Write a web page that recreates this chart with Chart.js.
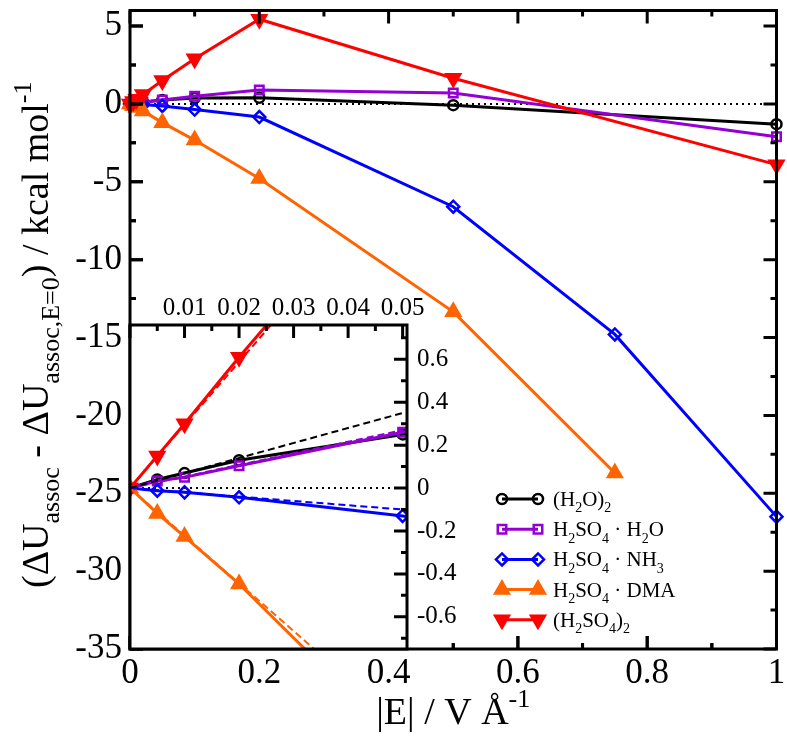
<!DOCTYPE html>
<html lang="en">
<head>
<meta charset="UTF-8">
<title>Association energy vs field strength</title>
<script src="https://cdn.jsdelivr.net/npm/chart.js@4.4.1/dist/chart.umd.min.js"></script>
<style>
    body { margin: 0; background: #fff; }
    #wrap { position: relative; width: 787px; height: 747px; }
    #wrap canvas { position: absolute; left: 0; top: 0; }
</style>
</head>
<body>
<div id="wrap">
    <canvas id="mainChart" width="787" height="747"></canvas>
    <canvas id="insetChart" width="787" height="747"></canvas>
</div>
<script>
// field strength |E| in V/Å
const fieldAll = [0, 0.005, 0.01, 0.02, 0.05, 0.1, 0.2, 0.5, 1];
const fieldNH3 = [0, 0.005, 0.01, 0.02, 0.05, 0.1, 0.2, 0.5, 0.75, 1];
const fieldDMA = [0, 0.005, 0.01, 0.02, 0.05, 0.1, 0.2, 0.5, 0.75];

// ΔU_assoc - ΔU_assoc,E=0 in kcal/mol
const water     = [0, 0.04, 0.07, 0.13, 0.25, 0.38, 0.40, -0.08, -1.3];
const sulfWater = [0, 0.033, 0.05, 0.104, 0.26, 0.50, 0.90, 0.70, -2.1];
const sulfNH3   = [0, -0.012, -0.02, -0.043, -0.13, -0.36, -0.84, -6.6, -14.8, -26.5];
const sulfDMA   = [0, -0.118, -0.226, -0.447, -1.2, -2.32, -4.79, -13.35, -23.7];
const sulfDimer = [0, 0.15, 0.30, 0.61, 1.5, 2.9, 5.44, 1.65, -3.9];

// low-field linear fits (inset, dashed): value at |E| = 0.05
const fitX = [0, 0.05];
const fitEnd = [0.35, 0.27, -0.10, -1.11, 1.47];

const names = ['(H_2O)_2', 'H_2SO_4 · H_2O', 'H_2SO_4 · NH_3', 'H_2SO_4 · DMA', '(H_2SO_4)_2'];

const mainXTicks = [0, 0.2, 0.4, 0.6, 0.8, 1];
const mainYTicks = [-35, -30, -25, -20, -15, -10, -5, 0, 5];
const insetXTicks = [0, 0.01, 0.02, 0.03, 0.04, 0.05];
const insetYTicks = [-0.6, -0.4, -0.2, 0, 0.2, 0.4, 0.6];

const xTitle = '|E| / V Å^{-1}';
const yTitle = '(ΔU_{assoc} - ΔU_{assoc,E=0}) / kcal mol^{-1}';

// styles
const colors = ['#000000', '#9400d3', '#0000ff', '#ff6400', '#ff0000'];
const fills = ['rgba(0,0,0,0)', 'rgba(0,0,0,0)', 'rgba(0,0,0,0)', '#ff6400', '#ff0000'];
const shapes = ['circle', 'rect', 'rectRot', 'triangle', 'triangle'];
const turns = [0, 0, 0, 0, 180];
const radii = [5, 6, 6, 8, 8];
const SERIF = '"Liberation Serif", "DejaVu Serif", serif';

Chart.defaults.font.family = SERIF;
Chart.defaults.color = '#000';

const seriesX = [fieldAll, fieldAll, fieldNH3, fieldDMA, fieldAll];
const seriesY = [water, sulfWater, sulfNH3, sulfDMA, sulfDimer];

function seriesSet(i, clip) {
    return {
        label: names[i],
        data: seriesX[i].map((x, k) => ({ x: x, y: seriesY[i][k] })),
        borderColor: colors[i],
        backgroundColor: fills[i],
        pointBorderColor: colors[i],
        pointBackgroundColor: fills[i],
        pointStyle: shapes[i],
        pointRotation: turns[i],
        pointRadius: radii[i],
        pointBorderWidth: 2.5,
        borderWidth: 3,
        order: 5 - i,
        clip: clip
    };
}

function zeroLine(xmax) {
    return {
        data: [{ x: 0, y: 0 }, { x: xmax, y: 0 }],
        borderColor: '#000', borderWidth: 2, borderDash: [2, 4],
        pointRadius: 0, order: 20, clip: 0
    };
}

// tiny text layout with _sub and ^sup
function parseRich(s) {
    const parts = [];
    let buf = '', i = 0;
    while (i < s.length) {
        const c = s[i];
        if (c === '_' || c === '^') {
            if (buf) { parts.push([buf, 0]); buf = ''; }
            let t;
            if (s[i + 1] === '{') {
                const j = s.indexOf('}', i);
                t = s.slice(i + 2, j);
                i = j + 1;
            } else {
                t = s[i + 1];
                i += 2;
            }
            parts.push([t, c === '_' ? 1 : 2]);
        } else {
            buf += c;
            i++;
        }
    }
    if (buf) parts.push([buf, 0]);
    return parts;
}

function drawRich(ctx, s, x, y, size, align) {
    const parts = parseRich(s);
    const fontOf = m => (m ? Math.round(size * 0.68) : size) + 'px ' + SERIF;
    let w = 0;
    parts.forEach(p => { ctx.font = fontOf(p[1]); w += ctx.measureText(p[0]).width; });
    let cx = align === 'center' ? x - w / 2 : x;
    ctx.textAlign = 'left';
    ctx.textBaseline = 'alphabetic';
    ctx.fillStyle = '#000';
    parts.forEach(p => {
        ctx.font = fontOf(p[1]);
        const dy = p[1] === 1 ? size * 0.3 : (p[1] === 2 ? -size * 0.45 : 0);
        ctx.fillText(p[0], cx, y + dy);
        cx += ctx.measureText(p[0]).width;
    });
}

function minorOf(major, min, max) {
    const half = (major[1] - major[0]) / 2;
    const out = [];
    major.forEach(m => {
        [m - half, m + half].forEach(v => {
            if (v > min + 1e-9 && v < max - 1e-9 && !out.some(o => Math.abs(o - v) < 1e-9)) out.push(v);
        });
    });
    return out;
}

// inward tick marks on chosen sides
function drawTickMarks(chart, xMajor, yMajor, sides) {
    const ctx = chart.ctx, a = chart.chartArea;
    const sx = chart.scales.x, sy = chart.scales.y;
    const xMinor = minorOf(xMajor, sx.min, sx.max);
    const yMinor = minorOf(yMajor, sy.min, sy.max);
    ctx.save();
    ctx.strokeStyle = '#000';
    ctx.lineWidth = 3;
    ctx.beginPath();
    const xMarks = (vals, len) => vals.forEach(v => {
        if (v < sx.min - 1e-9 || v > sx.max + 1e-9) return;
        const px = sx.getPixelForValue(v);
        if (sides.includes('bottom')) { ctx.moveTo(px, a.bottom); ctx.lineTo(px, a.bottom - len); }
        if (sides.includes('top')) { ctx.moveTo(px, a.top); ctx.lineTo(px, a.top + len); }
    });
    const yMarks = (vals, len) => vals.forEach(v => {
        if (v < sy.min - 1e-9 || v > sy.max + 1e-9) return;
        const py = sy.getPixelForValue(v);
        if (sides.includes('left')) { ctx.moveTo(a.left, py); ctx.lineTo(a.left + len, py); }
        if (sides.includes('right')) { ctx.moveTo(a.right, py); ctx.lineTo(a.right - len, py); }
    });
    xMarks(xMajor, 13); xMarks(xMinor, 6);
    yMarks(yMajor, 13); yMarks(yMinor, 6);
    ctx.stroke();
    ctx.restore();
}

function drawBox(chart) {
    const ctx = chart.ctx, a = chart.chartArea;
    ctx.save();
    ctx.strokeStyle = '#000';
    ctx.lineWidth = 3;
    ctx.strokeRect(a.left, a.top, a.right - a.left, a.bottom - a.top);
    ctx.restore();
}

function drawMarker(ctx, i, x, y) {
    ctx.save();
    ctx.strokeStyle = colors[i];
    ctx.fillStyle = fills[i];
    ctx.lineWidth = 2.5;
    const opts = { pointStyle: shapes[i], radius: radii[i], rotation: turns[i], borderWidth: 2.5 };
    if (Chart.helpers && Chart.helpers.drawPoint) {
        Chart.helpers.drawPoint(ctx, opts, x, y);
    } else {
        ctx.beginPath(); ctx.arc(x, y, radii[i], 0, Math.PI * 2); ctx.fill(); ctx.stroke();
    }
    ctx.restore();
}

const mainDecor = {
    id: 'mainDecor',
    afterDraw(chart) {
        const ctx = chart.ctx, a = chart.chartArea;
        drawBox(chart);
        drawTickMarks(chart, mainXTicks, mainYTicks, ['bottom', 'top', 'left', 'right']);

        // axis titles
        drawRich(ctx, xTitle, (a.left + a.right) / 2, 724, 38, 'center');
        ctx.save();
        ctx.translate(48, (a.top + a.bottom) / 2 + 5);
        ctx.rotate(-Math.PI / 2);
        drawRich(ctx, yTitle, 0, 0, 38, 'center');
        ctx.restore();

        // legend: line with a marker at both ends
        names.forEach((n, i) => {
            const y = 499 + i * 30.2;
            ctx.save();
            ctx.strokeStyle = colors[i];
            ctx.lineWidth = 3;
            ctx.beginPath();
            ctx.moveTo(502, y); ctx.lineTo(538, y);
            ctx.stroke();
            ctx.restore();
            drawMarker(ctx, i, 502, y);
            drawMarker(ctx, i, 538, y);
            drawRich(ctx, n, 553, y + 7, 21, 'left');
        });
    }
};

function fixSize(w, h) {
    return s => {
        if (w !== null) s.width = w;
        if (h !== null) s.height = h;
        s.paddingLeft = 0; s.paddingRight = 0; s.paddingTop = 0; s.paddingBottom = 0;
    };
}

const mainDatasets = [0, 1, 2, 3, 4].map(i => seriesSet(i, false));
mainDatasets.push(zeroLine(1));

const mainChart = new Chart(document.getElementById('mainChart'), {
    type: 'line',
    data: { datasets: mainDatasets },
    options: {
        responsive: false,
        animation: false,
        events: [],
        layout: { padding: { left: 0, top: 1, right: 8, bottom: 0 } },
        plugins: { legend: { display: false }, tooltip: { enabled: false } },
        scales: {
            x: {
                type: 'linear', min: 0, max: 1,
                grid: { display: false, drawTicks: false },
                border: { display: false },
                afterBuildTicks: s => { s.ticks = mainXTicks.map(v => ({ value: v })); },
                afterFit: fixSize(null, 98),
                ticks: { font: { size: 35 }, padding: 4, autoSkip: false, maxRotation: 0,
                         callback: v => String(v) }
            },
            y: {
                type: 'linear', min: -35, max: 6,
                grid: { display: false, drawTicks: false },
                border: { display: false },
                afterBuildTicks: s => { s.ticks = mainYTicks.map(v => ({ value: v })); },
                afterFit: fixSize(130, null),
                ticks: { font: { size: 35 }, padding: 8, autoSkip: false,
                         callback: v => String(v) }
            }
        }
    },
    plugins: [mainDecor]
});

const insetDecor = {
    id: 'insetDecor',
    beforeDraw(chart) {
        const ctx = chart.ctx, a = chart.chartArea;
        ctx.save();
        ctx.fillStyle = '#fff';
        ctx.fillRect(a.left, a.top, a.right - a.left, a.bottom - a.top);
        ctx.restore();
    },
    afterDraw(chart) {
        drawBox(chart);
        drawTickMarks(chart, insetXTicks, insetYTicks, ['top', 'right']);
        // the main frame's own ticks stay visible along the inset's left and bottom edge
        drawTickMarks(mainChart, mainXTicks, mainYTicks, ['bottom', 'left']);
    }
};

const insetDatasets = [0, 1, 2, 3, 4].map(i => seriesSet(i, 0));
fitEnd.forEach((v, i) => {
    insetDatasets.push({
        data: fitX.map((x, k) => ({ x: x, y: k === 0 ? 0 : v })),
        borderColor: colors[i], borderWidth: 2, borderDash: [7, 4],
        pointRadius: 0, order: 0, clip: 0
    });
});
insetDatasets.push(zeroLine(0.05));

new Chart(document.getElementById('insetChart'), {
    type: 'line',
    data: { datasets: insetDatasets },
    options: {
        responsive: false,
        animation: false,
        events: [],
        layout: { padding: { left: 130, top: 285, right: 320, bottom: 98 } },
        plugins: { legend: { display: false }, tooltip: { enabled: false } },
        scales: {
            x: {
                type: 'linear', position: 'top', min: 0, max: 0.0508,
                grid: { display: false, drawTicks: false },
                border: { display: false },
                afterBuildTicks: s => { s.ticks = insetXTicks.map(v => ({ value: v })); },
                afterFit: fixSize(null, 40),
                ticks: { font: { size: 25 }, padding: 2, autoSkip: false, maxRotation: 0,
                         callback: v => (v === 0 ? '' : String(v)) }
            },
            y: {
                type: 'linear', position: 'right', min: -0.75, max: 0.76,
                grid: { display: false, drawTicks: false },
                border: { display: false },
                afterBuildTicks: s => { s.ticks = insetYTicks.map(v => ({ value: v })); },
                afterFit: fixSize(60, null),
                ticks: { font: { size: 25 }, padding: 10, autoSkip: false,
                         callback: v => String(v) }
            }
        }
    },
    plugins: [insetDecor]
});
</script>
</body>
</html>
